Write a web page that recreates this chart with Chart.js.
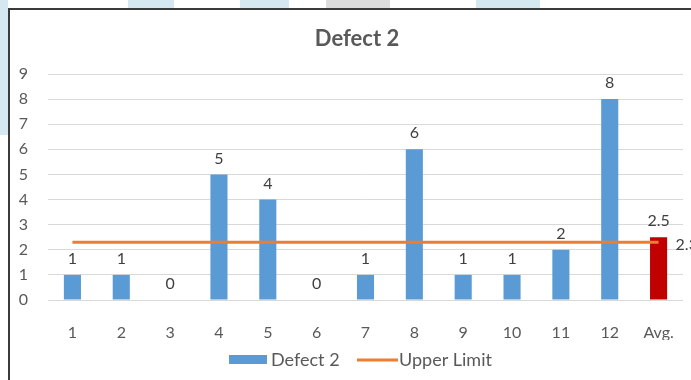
<!DOCTYPE html>
<html>
<head>
<meta charset="utf-8">
<script src="https://cdn.jsdelivr.net/npm/chart.js@4"></script>
<style>
  html, body { margin: 0; padding: 0; background: #fff; }
  body { width: 691px; height: 380px; position: relative; overflow: hidden; }
  .wm { position: absolute; background: #d5e7f0; }
  .frame {
    position: absolute; left: 8px; top: 8px; width: 800px; height: 500px;
    border-left: 2px solid #3a3a3a; border-top: 2px solid #3a3a3a; background: #fff;
  }
  #chart { position: absolute; left: 0; top: 0; }
</style>
</head>
<body>
<!-- faint watermark shapes behind the chart frame -->
<div class="wm" style="left:0;top:0;width:8px;height:135px;"></div>
<div class="wm" style="left:128px;top:0;width:46px;height:9px;"></div>
<div class="wm" style="left:240px;top:0;width:49px;height:9px;"></div>
<div class="wm" style="left:326px;top:0;width:64px;height:9px;background:#dcdcdc;"></div>
<div class="wm" style="left:476px;top:0;width:64px;height:9px;"></div>
<div class="frame"></div>
<canvas id="chart" width="691" height="380"></canvas>
<script>
const categories = ['1', '2', '3', '4', '5', '6', '7', '8', '9', '10', '11', '12', 'Avg.'];
const defect2 = [1, 1, 0, 5, 4, 0, 1, 6, 1, 1, 2, 8, 2.5];
const upperLimit = [2.3, 2.3, 2.3, 2.3, 2.3, 2.3, 2.3, 2.3, 2.3, 2.3, 2.3, 2.3, 2.3];
const yTicks = [0, 1, 2, 3, 4, 5, 6, 7, 8, 9];

const FONT = 'Lato, "Open Sans", sans-serif';
const TEXT = '#595959';
const BLUE = '#5b9bd5';
const RED = '#c00000';
const ORANGE = '#ed7d31';

// title, legend and value labels
const decor = {
  id: 'decor',
  afterDatasetsDraw(chart) {
    const ctx = chart.ctx;
    ctx.save();
    ctx.fillStyle = '#404040';
    ctx.font = '16px ' + FONT;
    ctx.textAlign = 'center';
    ctx.textBaseline = 'middle';
    const bars = chart.getDatasetMeta(0).data;
    bars.forEach((b, i) => {
      ctx.fillText(String(defect2[i]), b.x, b.y - 16);
    });
    const pts = chart.getDatasetMeta(1).data;
    const last = pts[pts.length - 1];
    ctx.textAlign = 'left';
    ctx.fillText(String(upperLimit[upperLimit.length - 1]), last.x + 17, last.y + 3);
    ctx.restore();
  },
  afterDraw(chart) {
    const ctx = chart.ctx;
    ctx.save();
    ctx.fillStyle = TEXT;
    ctx.textBaseline = 'middle';
    ctx.textAlign = 'center';
    ctx.font = 'bold 22px ' + FONT;
    ctx.fillText('Defect 2', 357, 39);

    ctx.font = '18px ' + FONT;
    ctx.textAlign = 'left';
    ctx.fillStyle = BLUE;
    ctx.fillRect(229, 355, 38, 9);
    ctx.fillStyle = TEXT;
    ctx.fillText('Defect 2', 271, 360);
    ctx.strokeStyle = ORANGE;
    ctx.lineWidth = 3;
    ctx.beginPath();
    ctx.moveTo(357, 360);
    ctx.lineTo(398, 360);
    ctx.stroke();
    ctx.fillText('Upper Limit', 399, 360);
    ctx.restore();
  }
};

new Chart(document.getElementById('chart'), {
  type: 'bar',
  data: {
    labels: categories,
    datasets: [
      {
        label: 'Defect 2',
        data: defect2,
        backgroundColor: defect2.map((v, i) => i === defect2.length - 1 ? RED : BLUE),
        categoryPercentage: 1,
        barPercentage: 0.35,
        order: 2
      },
      {
        type: 'line',
        label: 'Upper Limit',
        data: upperLimit,
        borderColor: ORANGE,
        borderWidth: 3,
        pointRadius: 0,
        fill: false,
        order: 1
      }
    ]
  },
  plugins: [decor],
  options: {
    responsive: false,
    animation: false,
    layout: { padding: { top: 74, right: 8, left: 0, bottom: 40 } },
    plugins: {
      legend: { display: false },
      title: { display: false },
      tooltip: { enabled: false }
    },
    scales: {
      x: {
        grid: { display: false },
        border: { display: false },
        ticks: { color: TEXT, font: { family: FONT, size: 16 }, padding: 15, maxRotation: 0 },
        afterFit(scale) { scale.height = 40; }
      },
      y: {
        min: yTicks[0],
        max: yTicks[yTicks.length - 1],
        grid: { color: '#d9d9d9', drawTicks: false },
        border: { display: false },
        afterBuildTicks(scale) { scale.ticks = yTicks.map(v => ({ value: v })); },
        ticks: { color: TEXT, font: { family: FONT, size: 16 }, padding: 20 },
        afterFit(scale) { scale.width = 48; }
      }
    }
  }
});
</script>
</body>
</html>
